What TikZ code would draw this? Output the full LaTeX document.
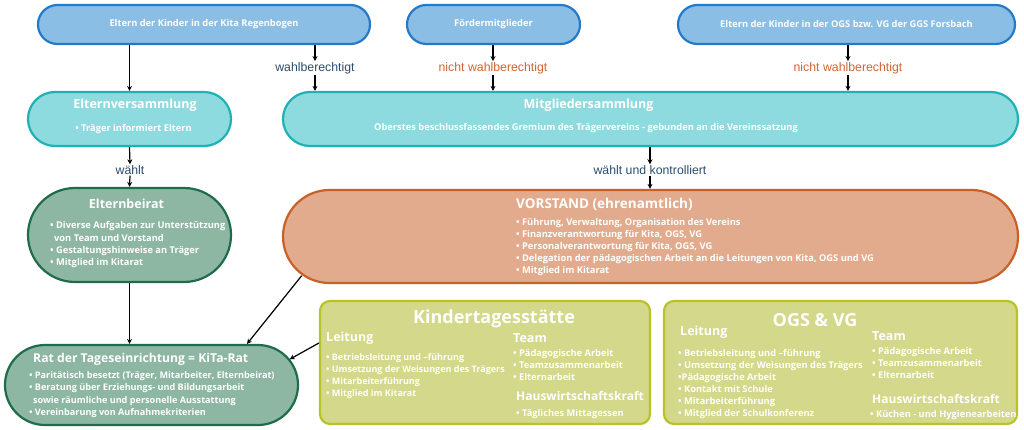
\documentclass[tikz,border=0pt]{standalone}
\usepackage{fontspec}
\setmainfont{Open Sans}
\newfontfamily\labfont{Liberation Sans}
\usetikzlibrary{arrows.meta}
\definecolor{bluefill}{RGB}{139,190,228}
\definecolor{blueline}{RGB}{36,122,200}
\definecolor{tealfill}{RGB}{142,219,223}
\definecolor{tealline}{RGB}{30,178,182}
\definecolor{greenfill}{RGB}{141,183,162}
\definecolor{greenline}{RGB}{30,108,75}
\definecolor{orangefill}{RGB}{227,171,141}
\definecolor{orangeline}{RGB}{200,96,40}
\definecolor{olivefill}{RGB}{212,216,138}
\definecolor{oliveline}{RGB}{182,196,42}
\definecolor{labblue}{RGB}{45,78,108}
\definecolor{laborange}{RGB}{210,100,50}
\tikzset{
  box/.style={draw, line width=2.2pt, inner sep=0pt},
  topbox/.style={box, fill=bluefill, draw=blueline, minimum height=39pt, rounded corners=19.5pt,
     text=white, font=\bfseries\fontsize{9.3}{12}\selectfont},
  txt/.style={text=white, inner sep=0pt, align=left, anchor=base west, font=\bfseries\fontsize{9.3}{12}\selectfont},
  ttl/.style={text=white, inner sep=0pt, font=\bfseries\fontsize{12.5}{14}\selectfont},
  bigttl/.style={text=white, inner sep=0pt, font=\bfseries\fontsize{18}{20}\selectfont},
  lab/.style={inner sep=1pt, font=\labfont\fontsize{12.3}{14}\selectfont},
  arr/.style={-{Stealth[length=5pt,width=5pt]}, line width=1.2pt, black},
}
\begin{document}
\begin{tikzpicture}[x=1pt,y=-1pt]
\useasboundingbox[fill=white] (0,0) rectangle (1024,430);
% top row
\node[topbox, minimum width=332pt] (top1) at (204,24.5) {Eltern der Kinder in der Kita Regenbogen};
\node[topbox, minimum width=173pt] (top2) at (493.5,24.5) {Fördermitglieder};
\node[topbox, minimum width=337pt] (top3) at (846.5,24.5) {Eltern der Kinder in der OGS bzw. VG der GGS Forsbach};
% second row
\node[box, fill=tealfill, draw=tealline, minimum width=203pt, minimum height=54pt, rounded corners=27pt] (ev) at (129.5,119) {};
\node[box, fill=tealfill, draw=tealline, minimum width=735pt, minimum height=54pt, rounded corners=27pt] (ms) at (650.5,119) {};
\node[ttl] (evt) at (135,105.5) {Elternversammlung};
\node[txt, anchor=base] (evb) at (133.5,131.5) {• Träger informiert Eltern};
\node[ttl] (mst) at (588.5,105.5) {Mitgliedersammlung};
\node[txt, anchor=base] (msb) at (586,130.5) {Oberstes beschlussfassendes Gremium des Trägervereins - gebunden an die Vereinssatzung};
% third row
\node[box, fill=greenfill, draw=greenline, minimum width=203pt, minimum height=94pt, rounded corners=47pt] (eb) at (129.5,235) {};
\node[box, fill=orangefill, draw=orangeline, minimum width=735pt, minimum height=93pt, rounded corners=46.5pt] (vs) at (650.5,236.5) {};
\node[ttl] (ebt) at (126.5,204) {Elternbeirat};
\node[txt] (ebb) at (50,265) {• Diverse Aufgaben zur Unterstützung\\\hspace*{4pt}von Team und Vorstand\\• Gestaltungshinweise an Träger\\• Mitglied im Kitarat};
\node[ttl, anchor=west, font=\bfseries\fontsize{13.5}{15}\selectfont] (vst) at (516,204) {VORSTAND (ehrenamtlich)};
\node[txt] (vsb) at (516,273) {• Führung, Verwaltung, Organisation des Vereins\\• Finanzverantwortung für Kita, OGS, VG\\• Personalverantwortung für Kita, OGS, VG\\• Delegation der pädagogischen Arbeit an die Leitungen von Kita, OGS und VG\\• Mitglied im Kitarat};
% bottom row
\node[box, fill=greenfill, draw=greenline, minimum width=293pt, minimum height=80pt, rounded corners=40pt] (rat) at (151.5,385) {};
\node[ttl, anchor=west, font=\bfseries\fontsize{12.2}{14}\selectfont] (ratt) at (33,359) {Rat der Tageseinrichtung = KiTa-Rat};
\node[txt, font=\bfseries\fontsize{9.1}{12.3}\selectfont] (ratb) at (29,415.4) {• Paritätisch besetzt (Träger, Mitarbeiter, Elternbeirat)\\• Beratung über Erziehungs- und Bildungsarbeit\\\hspace*{4pt}sowie räumliche und personelle Ausstattung\\• Vereinbarung von Aufnahmekriterien};
\node[box, fill=olivefill, draw=oliveline, minimum width=330pt, minimum height=123pt, rounded corners=10pt] (kita) at (485,362.5) {};
\node[box, fill=olivefill, draw=oliveline, minimum width=353pt, minimum height=123pt, rounded corners=10pt] (ogs) at (840.5,362.5) {};
\node[bigttl] (kitat) at (494,318.5) {Kindertagesstätte};
\node[ttl, anchor=west] (kital) at (326,338.5) {Leitung};
\node[txt, font=\bfseries\fontsize{9}{11.7}\selectfont] (kitalb) at (326,396) {• Betriebsleitung und –führung\\• Umsetzung der Weisungen des Trägers\\• Mitarbeiterführung\\• Mitglied im Kitarat};
\node[ttl, anchor=west] (kitatm) at (513,338.5) {Team};
\node[txt] (kitatb) at (513,380) {• Pädagogische Arbeit\\• Teamzusammenarbeit\\• Elternarbeit};
\node[ttl, anchor=west, font=\bfseries\fontsize{12}{14}\selectfont] (kitah) at (516,395.5) {Hauswirtschaftskraft};
\node[txt] (kitahb) at (516,416) {• Tägliches Mittagessen};
\node[bigttl] (ogst) at (815,320.5) {OGS \& VG};
\node[ttl, anchor=west] (ogsl) at (680,332.5) {Leitung};
\node[txt] (ogslb) at (678,416) {• Betriebsleitung und –führung\\• Umsetzung der Weisungen des Trägers\\•Pädagogische Arbeit\\• Kontakt mit Schule\\• Mitarbeiterführung\\• Mitglied der Schulkonferenz};
\node[ttl, anchor=west] (ogstm) at (872,336.5) {Team};
\node[txt] (ogstb) at (872,378) {• Pädagogische Arbeit\\• Teamzusammenarbeit\\• Elternarbeit};
\node[ttl, anchor=west, font=\bfseries\fontsize{12}{14}\selectfont] (ogsh) at (872,398.5) {Hauswirtschaftskraft};
\node[txt] (ogshb) at (870,417) {• Küchen - und Hygienearbeiten};
% labels
\node[lab, text=labblue] (lw) at (315,68) {wahlberechtigt};
\node[lab, text=laborange] (ln1) at (493,68) {nicht wahlberechtigt};
\node[lab, text=laborange] (ln2) at (848,68) {nicht wahlberechtigt};
\node[lab, text=labblue] (lwa) at (130,170) {wählt};
\node[lab, text=labblue] (lwk) at (650,170) {wählt und kontrolliert};
% arrows
\draw[arr] (ev.north |- top1.south) -- (ev.north);
\draw[arr] (lw.north |- top1.south) -- (lw.north);
\draw[arr] (lw.south) -- (lw.south |- ms.north);
\draw[arr] (ln1.north |- top2.south) -- (ln1.north);
\draw[arr] (ln1.south) -- (ln1.south |- ms.north);
\draw[arr] (ln2.north |- top3.south) -- (ln2.north);
\draw[arr] (ln2.south) -- (ln2.south |- ms.north);
\draw[arr] (ev.south) -- (lwa.north);
\draw[arr] (lwa.south) -- (eb.north);
\draw[arr] (lwk.north |- ms.south) -- (lwk.north);
\draw[arr] (lwk.south) -- (lwk.south |- vs.north);
\draw[arr] (eb.south) -- (eb.south |- rat.north);
\draw[arr] ([shift={(19.8,-8.4)}]vs.south west) -- ([xshift=95.5pt]rat.north);
\draw[arr] ([yshift=19.5pt]kita.west) -- ([shift={(-9.4,-25.7)}]rat.east);
\end{tikzpicture}
\end{document}
